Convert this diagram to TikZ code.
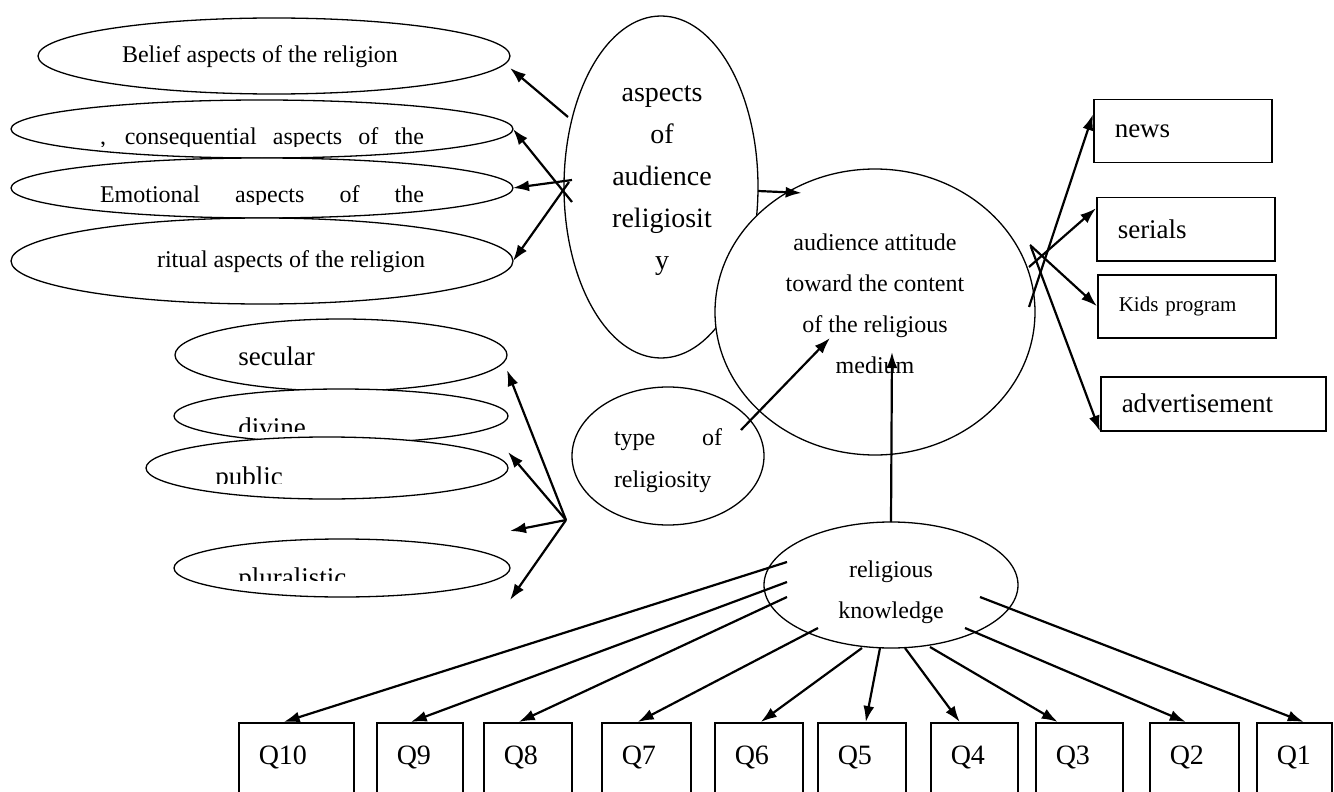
\documentclass[tikz,border=0pt]{standalone}
\usepackage{fontspec}
\setmainfont{Liberation Serif}
\usetikzlibrary{arrows.meta, positioning, shapes.geometric}
\tikzset{
  arrow/.style={
    -{Latex[length=8pt,width=5.5pt]}, line width=1.1pt},
  oval/.style={
    draw,
    ellipse,
    fill=white,
    line width=0.65pt,
    inner sep=0pt,
    outer sep=0pt
  },
  rbox/.style={
    draw,
    rectangle,
    anchor=north west,
    line width=0.75pt,
    inner xsep=10.5pt,
    inner ysep=0pt,
    align=left,
    font=\fontsize{13.5}{16}\selectfont
  }
}

\begin{document}
\begin{tikzpicture}[x=0.5pt, y=-0.5pt,
  lbl/.style={font=\fontsize{12}{14}\selectfont, inner sep=0pt},
  biglbl/.style={font=\fontsize{13.5}{16}\selectfont, inner sep=0pt},
  qbox/.style={draw, rectangle, anchor=north west, line width=0.75pt,
               inner xsep=10pt, inner ysep=0pt, align=left,
               minimum height=39pt, text height=10pt, text depth=7pt,
               font=\fontsize{14}{16}\selectfont}
]
\path[use as bounding box] (0,0) rectangle (1334,792);
\clip (0,0) rectangle (1334,792);

%% ---- aspects of religiosity (top left) ----
\node[oval, minimum width=236pt, minimum height=38pt] (belief) at (274,56) {};
\node[lbl, anchor=base] (belieftxt) at (260,63) {Belief aspects of the religion};
\node[oval, minimum width=251pt, minimum height=29pt] (conseq) at (262,129) {};
\begin{scope}
  \clip (0,100) rectangle (600,147);
  \node[lbl, anchor=base] (conseqtxt) at (262,145)
    {\makebox[162pt][s]{, consequential aspects of the}};
\end{scope}
\node[oval, minimum width=251pt, minimum height=30pt] (emot) at (262,188) {};
\begin{scope}
  \clip (0,160) rectangle (600,204);
  \node[lbl, anchor=base] (emottxt) at (262,203)
    {\makebox[162pt][s]{Emotional aspects of the}};
\end{scope}
\node[oval, minimum width=251pt, minimum height=43pt] (ritual) at (262,261) {};
\node[lbl, anchor=base] (ritualtxt) at (291,267) {ritual aspects of the religion};

%% ---- central latent variables ----
\node[oval, minimum width=97pt, minimum height=171pt] (aspects) at (661,187) {};
\node[align=center, inner sep=0pt, font=\fontsize{14}{21}\selectfont] (aspectstxt)
  at (662,181) {aspects\\of\\audience\\religiosit\\y};

\node[oval, minimum width=160pt, minimum height=143pt] (attitude) at (875,312) {};
\node[lbl, align=center, font=\fontsize{12}{20.5}\selectfont] (attitudetxt)
  at (875,304) {audience attitude\\toward the content\\of the religious\\medium};

\node[oval, minimum width=96pt, minimum height=69pt] (typerel) at (668,456) {};
\node[lbl, align=left, text width=54pt, font=\fontsize{12}{21}\selectfont] (typetxt)
  at (668,461) {\makebox[54pt]{type\hfill of}\\religiosity};

\node[oval, minimum width=127pt, minimum height=63pt] (knowledge) at (891,585) {};
\node[lbl, align=center, font=\fontsize{12}{20.5}\selectfont] (knowtxt)
  at (891,592) {religious\\knowledge};

%% ---- types of religiosity (left) ----
\node[oval, minimum width=166pt, minimum height=36pt] (secular) at (341,355) {};
\node[biglbl, anchor=base west] (seculartxt) at (238,365) {secular};
\node[oval, minimum width=167pt, minimum height=27pt] (divine) at (341,416) {};
\begin{scope}
  \clip (150,400) rectangle (520,431);
  \node[biglbl, anchor=base west] (divinetxt) at (238,436) {divine};
\end{scope}
\node[oval, minimum width=181pt, minimum height=31pt] (public) at (327,468) {};
\begin{scope}
  \clip (120,455) rectangle (520,483);
  \node[biglbl, anchor=base west] (publictxt) at (215,485) {public};
\end{scope}
\node[oval, minimum width=168pt, minimum height=29pt] (plural) at (342,568) {};
\begin{scope}
  \clip (150,550) rectangle (520,580);
  \node[biglbl, anchor=base west] (pluraltxt) at (238,586) {pluralistic};
\end{scope}

%% ---- content boxes (right) ----
\node[rbox, text width=68pt, minimum height=31.5pt] (news) at (1093,99) {news};
\node[rbox, text width=68pt, minimum height=31.5pt] (serials) at (1096,197) {serials};
\node[rbox, text width=68pt, minimum height=31.5pt,
      font=\fontsize{10.5}{12}\selectfont] (kids) at (1097,274) {Kids program};
\node[rbox, text width=91.5pt, minimum height=27pt] (advert) at (1100,376) {advertisement};

%% ---- question boxes (bottom) ----
\foreach \q/\x/\w in {10/238/37.5, 9/376/23, 8/483/24, 7/601/24.5, 6/714/24,
                      5/817/24, 4/930/23.5, 3/1035/23.5, 2/1149/24.5, 1/1256/17.5}
  \node[qbox, text width=\w pt] (q\q) at (\x,722) {Q\q};

%% ---- arrows ----
\coordinate (hubbelief) at (568,117);
\coordinate (hubconseq) at (572,202);
\coordinate (hubemot) at (572,180);
\coordinate (hubritual) at (569,182);
\draw[arrow] (hubbelief) -- ([yshift=-6pt]belief.east);
\draw[arrow] (hubconseq) -- (conseq.east);
\draw[arrow] (hubemot) -- (emot.east);
\draw[arrow] (hubritual) -- (ritual.east);

\coordinate (hubtype) at (566,520);
\draw[arrow] (hubtype) -- ([yshift=-7.5pt]secular.east);
\draw[arrow] (hubtype) -- ([yshift=8pt]public.east);
\draw[arrow] (hubtype) -- ([yshift=18.5pt]plural.east);
\draw[arrow] (hubtype) -- ([yshift=-16pt]plural.east);

\draw[arrow] ([yshift=-2pt]aspects.east) -- ([yshift=-4pt]attitude.120);
\draw[arrow] ([shift={(36.5pt,13pt)}]typerel.center)
  -- ([shift={(-22.5pt,-13pt)}]attitude.center);
\draw[arrow] (knowledge.north) -- ([shift={(8.5pt,-20pt)}]attitude.center);

\coordinate (outnews) at (1029,307);
\coordinate (outserials) at (1029,267);
\coordinate (outkids) at (1030,245);
\coordinate (outadvert) at (1031,247);
\draw[arrow] (outnews) -- ([yshift=8.5pt]news.west);
\draw[arrow] (outserials) -- ([yshift=10.5pt]serials.west);
\draw[arrow] (outkids) -- (kids.west);
\draw[arrow] (outadvert) -- (advert.south west);

\foreach \q/\sx/\sy/\tx in {10/-52/11.5/-6.25, 9/-52/1.5/-4.5, 8/-52/-6/-4.5,
                            7/-36.5/-21.5/-4.25, 6/-14.5/-31.5/1, 5/-5.5/-31.5/2,
                            4/7/-31.5/-7.25, 3/19.5/-31/-10.75, 2/37/-21.5/-4.25,
                            1/44.5/-6/4.75}
  \draw[arrow] ([shift={(\sx pt,\sy pt)}]knowledge.center) -- ([xshift=\tx pt]q\q.north);

\end{tikzpicture}
\end{document}
